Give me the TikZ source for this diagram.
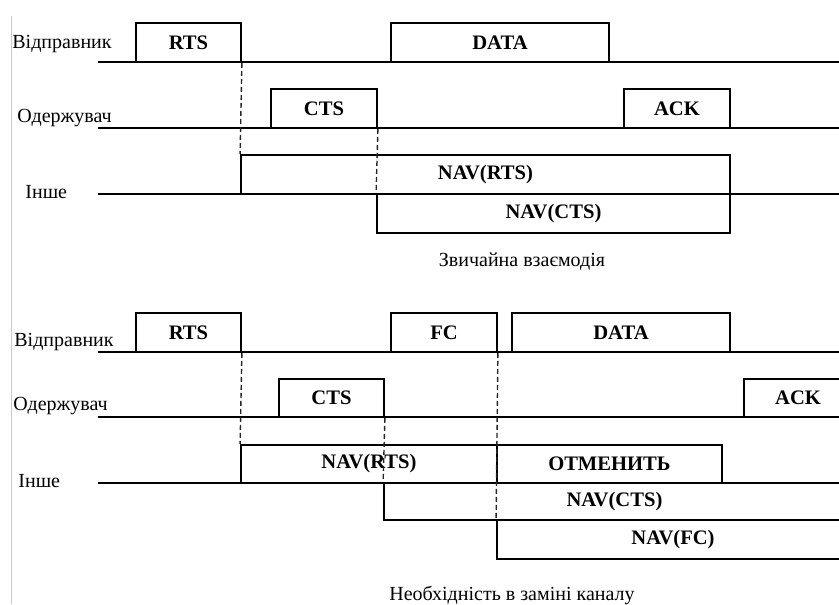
\documentclass[tikz,border=0pt]{standalone}
\usepackage{fontspec}
\setmainfont{Liberation Serif}
\usetikzlibrary{fit}

\begin{document}
\begin{tikzpicture}[x=0.5pt, y=-0.5pt,
    every node/.style={font=\fontsize{10}{12}\selectfont},
    box/.style={draw, line width=0.9pt, inner sep=0pt},
    boxtext/.style={font=\fontsize{10.3}{12}\selectfont\bfseries, inner sep=0pt},
    every label/.style={boxtext},
    lane/.style={line width=0.7pt},
    guide/.style={line width=0.7pt, dash pattern=on 2.5pt off 1.5pt, black!85},
    tag/.style={anchor=west, inner sep=0pt}]
    \clip (0,0) rectangle (839,604);
    \draw[line width=0.5pt, blue!25!gray!35] (11,16) -- (11,604);

    % звичайна взаємодія
    \node[tag] (snd1) at (12,44) {Відправник};
    \node[tag] (rcv1) at (17,118) {Одержувач};
    \node[tag] (oth1) at (25,192) {Інше};
    \draw[lane] (98,62) -- (839,62);
    \draw[lane] (98,128) -- (839,128);
    \draw[lane] (98,194) -- (839,194);

    \node[box, fit={(136,23) (241,62)}, label={center:RTS}] (rts1) {};
    \node[box, fit={(391,23) (609,62)}, label={center:DATA}] (data1) {};
    \node[box, fit={(271,89) (377,128)}, label={center:CTS}] (cts1) {};
    \node[box, fit={(624,89) (730,128)}, label={center:ACK}] (ack1) {};
    \node[box, fit={(241,155) (730,194)}, label={center:NAV(RTS)}] (navrts1) {};
    \node[box, fit={(377,194) (730,233)}, label={center:NAV(CTS)}] (navcts1) {};

    \draw[guide] (rts1.south east) -- (navrts1.north west);
    \draw[guide] (cts1.south east) -- (navcts1.north west);

    \node (cap1) at (522,262) {Звичайна взаємодія};

    % необхідність в заміні каналу
    \node[tag] (snd2) at (14,342) {Відправник};
    \node[tag] (rcv2) at (13,406) {Одержувач};
    \node[tag] (oth2) at (18,481) {Інше};
    \draw[lane] (98,352) -- (839,352);
    \draw[lane] (98,417) -- (839,417);
    \draw[lane] (98,483) -- (839,483);

    \node[box, fit={(136,313) (241,352)}, label={center:RTS}] (rts2) {};
    \node[box, fit={(391,313) (497,352)}, label={center:FC}] (fc2) {};
    \node[box, fit={(512,313) (730,352)}, label={center:DATA}] (data2) {};
    \node[box, fit={(279,379) (384,417)}, label={center:CTS}] (cts2) {};
    \node[box, fit={(744,379) (852,417)}, label={center:ACK}] (ack2) {};
    \node[box, fit={(241,445) (497,483)}, label={center:NAV(RTS)}] (navrts2) {};
    \node[box, fit={(497,445) (722,483)}, label={center:ОТМЕНИТЬ}] (cancel2) {};
    \node[box, fit={(384,483) (845,520)}, label={center:NAV(CTS)}] (navcts2) {};
    \node[box, fit={(497,520) (849,559)}, label={center:NAV(FC)}] (navfc2) {};

    \draw[guide] (rts2.south east) -- (navrts2.north west);
    \draw[guide] (cts2.south east) -- (navcts2.north west);
    \draw[guide] (fc2.south east) -- (navfc2.north west);

    \node (cap2) at (512,595) {Необхідність в заміні каналу};
\end{tikzpicture}
\end{document}
